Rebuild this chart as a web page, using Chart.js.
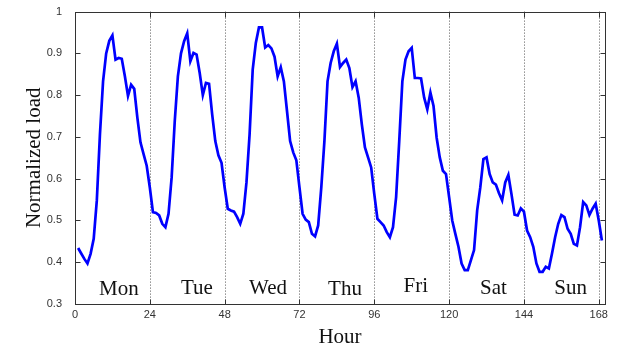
<!DOCTYPE html>
<html>
<head>
<meta charset="utf-8">
<script src="https://cdn.jsdelivr.net/npm/chart.js@4"></script>
<style>
  html, body { margin: 0; padding: 0; background: #fff; }
  canvas { display: block; }
</style>
</head>
<body>
<canvas id="load-chart" width="617" height="348"></canvas>
<script>
// hourly normalized load over one week (hour 1 .. 169)
const loadValues = [
  0.434, 0.421, 0.408, 0.397, 0.420, 0.456, 0.548, 0.706, 0.833, 0.900,
  0.930, 0.943, 0.885, 0.889, 0.887, 0.845, 0.798, 0.825, 0.815, 0.746,
  0.687, 0.659, 0.631, 0.579, 0.520, 0.518, 0.512, 0.492, 0.484, 0.516,
  0.603, 0.738, 0.845, 0.900, 0.929, 0.948, 0.881, 0.901, 0.897, 0.853,
  0.800, 0.829, 0.827, 0.754, 0.690, 0.656, 0.638, 0.579, 0.528, 0.524,
  0.521, 0.508, 0.492, 0.516, 0.591, 0.706, 0.861, 0.925, 0.962, 0.962,
  0.914, 0.920, 0.912, 0.892, 0.845, 0.867, 0.833, 0.762, 0.690, 0.663,
  0.644, 0.579, 0.516, 0.502, 0.496, 0.468, 0.462, 0.488, 0.579, 0.690,
  0.833, 0.877, 0.905, 0.923, 0.867, 0.877, 0.885, 0.865, 0.819, 0.833,
  0.794, 0.730, 0.675, 0.651, 0.627, 0.563, 0.504, 0.496, 0.488, 0.472,
  0.460, 0.484, 0.556, 0.690, 0.833, 0.885, 0.905, 0.913, 0.841, 0.841,
  0.840, 0.794, 0.766, 0.806, 0.774, 0.698, 0.651, 0.619, 0.611, 0.556,
  0.500, 0.468, 0.437, 0.397, 0.381, 0.381, 0.405, 0.429, 0.524, 0.579,
  0.647, 0.651, 0.611, 0.591, 0.586, 0.565, 0.548, 0.591, 0.609, 0.563,
  0.514, 0.512, 0.529, 0.521, 0.476, 0.460, 0.437, 0.397, 0.377, 0.377,
  0.389, 0.385, 0.421, 0.460, 0.492, 0.513, 0.508, 0.480, 0.468, 0.444,
  0.440, 0.484, 0.544, 0.536, 0.513, 0.528, 0.540, 0.500, 0.452
];
const firstHour = 1;

const xTicks = [0, 24, 48, 72, 96, 120, 144, 168];
const yTicks = [0.3, 0.4, 0.5, 0.6, 0.7, 0.8, 0.9, 1];
const dayBounds = [24, 48, 72, 96, 120, 144, 168];

const dayNames = ['Mon', 'Tue', 'Wed', 'Thu', 'Fri', 'Sat', 'Sun'];
// where each day name sits (hour of its centre, load of its baseline)
const dayNameHour = [14.1, 39.1, 61.9, 86.6, 109.3, 134.2, 159];
const dayNameLoad = [0.321, 0.323, 0.323, 0.321, 0.328, 0.323, 0.323];

const serif = '"Liberation Serif", "Times New Roman", serif';
const sans = '"Liberation Sans", Arial, sans-serif';

const points = loadValues.map((v, i) => ({ x: firstHour + i, y: v }));

const matlabAxes = {
  id: 'matlabAxes',
  beforeDatasetsDraw(chart) {
    const { ctx, chartArea: a, scales: { x } } = chart;
    ctx.save();
    ctx.strokeStyle = '#555';
    ctx.lineWidth = 1;
    ctx.setLineDash([1, 2]);
    dayBounds.forEach(h => {
      const px = Math.round(x.getPixelForValue(h)) + 0.5;
      ctx.beginPath();
      ctx.moveTo(px, a.top);
      ctx.lineTo(px, a.bottom);
      ctx.stroke();
    });
    ctx.restore();
  },
  afterDraw(chart) {
    const { ctx, chartArea: a, scales: { x, y } } = chart;
    ctx.save();
    ctx.strokeStyle = '#333';
    ctx.lineWidth = 1;
    const l = Math.round(a.left) + 0.5, r = Math.round(a.right) + 0.5;
    const t = Math.round(a.top) + 0.5, b = Math.round(a.bottom) + 0.5;
    ctx.strokeRect(l, t, r - l, b - t);
    const len = 5;
    ctx.beginPath();
    yTicks.forEach(v => {
      const py = Math.round(y.getPixelForValue(v)) + 0.5;
      ctx.moveTo(l, py); ctx.lineTo(l + len, py);
      ctx.moveTo(r, py); ctx.lineTo(r - len, py);
    });
    xTicks.forEach(h => {
      const px = Math.round(x.getPixelForValue(h)) + 0.5;
      ctx.moveTo(px, b); ctx.lineTo(px, b - len);
      ctx.moveTo(px, t); ctx.lineTo(px, t + len);
    });
    ctx.stroke();

    ctx.fillStyle = '#111';
    ctx.font = '21px ' + serif;
    ctx.textAlign = 'center';
    ctx.textBaseline = 'alphabetic';
    dayNames.forEach((name, i) => {
      ctx.fillText(name, x.getPixelForValue(dayNameHour[i]), y.getPixelForValue(dayNameLoad[i]));
    });
    ctx.restore();
  }
};

new Chart(document.getElementById('load-chart'), {
  type: 'line',
  data: {
    datasets: [{
      label: 'Normalized load',
      data: points,
      borderColor: '#0000ff',
      borderWidth: 2.7,
      pointRadius: 0,
      tension: 0,
      fill: false
    }]
  },
  options: {
    responsive: false,
    animation: false,
    devicePixelRatio: 1,
    layout: { padding: { top: 10, right: 12, left: 0, bottom: 0 } },
    plugins: {
      legend: { display: false },
      tooltip: { enabled: false }
    },
    scales: {
      x: {
        type: 'linear',
        min: 0,
        max: 170,
        grid: { display: false },
        border: { display: false },
        afterBuildTicks: s => { s.ticks = xTicks.map(v => ({ value: v })); },
        afterFit: s => { s.height = 44; },
        ticks: {
          color: '#333',
          font: { family: sans, size: 11 },
          padding: -4,
          maxRotation: 0,
          callback: v => String(v)
        },
        title: {
          display: true,
          text: 'Hour',
          color: '#111',
          font: { family: serif, size: 21, lineHeight: 1 },
          padding: { top: 0, bottom: 0 }
        }
      },
      y: {
        min: 0.3,
        max: 1,
        grid: { display: false },
        border: { display: false },
        afterBuildTicks: s => { s.ticks = yTicks.map(v => ({ value: v })); },
        afterFit: s => { s.width = 75; },
        ticks: {
          color: '#333',
          font: { family: sans, size: 11 },
          padding: 5,
          callback: v => (v === 1 ? '1' : v.toFixed(1))
        },
        title: {
          display: true,
          text: 'Normalized load',
          color: '#111',
          font: { family: serif, size: 21, lineHeight: 1 },
          padding: { top: 24, bottom: 0 }
        }
      }
    }
  },
  plugins: [matlabAxes]
});
</script>
</body>
</html>
